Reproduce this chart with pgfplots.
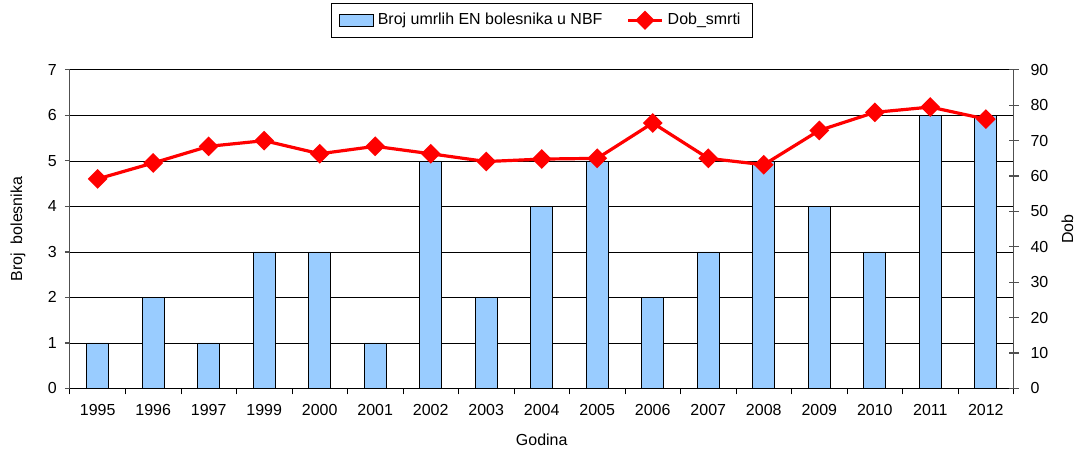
\documentclass[border=0pt]{standalone}
\usepackage{fontspec}
\setmainfont{Liberation Sans}
\usepackage{pgfplots}
\pgfplotsset{compat=1.18}
\definecolor{barblue}{RGB}{153,204,255}
\definecolor{axisgray}{RGB}{80,80,80}

\pgfplotstableread{
x  n  dob
0  1  59.2
1  2  63.7
2  1  68.4
3  3  70.0
4  3  66.3
5  1  68.4
6  5  66.3
7  2  64.1
8  4  64.8
9  5  65.0
10 2  75.0
11 3  65.0
12 5  63.2
13 4  72.9
14 3  78.0
15 6  79.5
16 6  76.1
}\data

\begin{document}
\begin{tikzpicture}[font=\fontsize{8}{9.5}\selectfont]
\pgfplotsset{
  every axis/.append style={
    scale only axis, width=472.5pt, height=159.5pt,
    xmin=-0.5, xmax=16.5,
    /pgf/number format/assume math mode=true,
    tick label style={font=\fontsize{8}{9.5}\selectfont},
    label style={font=\fontsize{8}{9.5}\selectfont},
  }
}
\begin{axis}[
  ymin=0, ymax=7, clip=false,
  axis x line*=bottom, axis y line*=left,
  axis line style={axisgray, line width=0.6pt},
  x axis line style={black},
  ytick={0,...,7},
  xtick={0,...,16},
  xticklabels={1995,1996,1997,1999,2000,2001,2002,2003,2004,2005,2006,2007,2008,2009,2010,2011,2012},
  major x tick style={draw=none},
  minor xtick={-0.5,0.5,...,16.5},
  minor x tick style={black, line width=0.4pt},
  tick align=outside,
  major tick length=2.5pt, minor tick length=3pt,
  ytick style={axisgray, line width=0.6pt},
  ymajorgrids, grid style={black, line width=0.4pt},
  xticklabel style={yshift=-2pt},
  yticklabel style={xshift=-0.5pt},
  xlabel={Godina}, ylabel={Broj\ \ bolesnika},
  xlabel style={at={(axis description cs:0.5,0)}, yshift=-25.5pt, anchor=center},
  ylabel style={at={(axis description cs:0,0.5)}, yshift=26pt, anchor=center},
  legend style={at={(0.5,1)}, anchor=south, yshift=16pt, draw=black, line width=0.4pt,
    legend columns=2, /tikz/every even column/.append style={column sep=10pt},
    font=\fontsize{8}{9.5}\selectfont, inner ysep=3pt, inner xsep=4pt},
  legend cell align=left,
]
\addplot[ybar, bar width=11pt, fill=barblue, draw=black, line width=0.4pt, area legend]
  table[x=x, y=n] {\data};
\addlegendentry{Broj umrlih EN bolesnika u NBF}
\addlegendimage{red, line width=1.6pt, mark=square*, mark size=2.6pt, mark options={rotate=45}}
\addlegendentry{Dob\_smrti}
\path ([xshift=-35pt,yshift=-32.5pt]axis description cs:0,0)
  rectangle ([xshift=32.5pt,yshift=35pt]axis description cs:1,1);
\end{axis}
\begin{axis}[
  ymin=0, ymax=90,
  axis x line=none, axis y line*=right,
  axis line style={axisgray, line width=0.6pt},
  ytick={0,10,...,90},
  tick align=center, major tick length=5pt,
  ytick style={axisgray, line width=0.6pt},
  yticklabel style={xshift=2.5pt},
  ylabel={Dob},
  ylabel style={at={(axis description cs:1,0.5)}, yshift=-27pt, anchor=center},
]
\addplot[red, line width=1.6pt, mark=square*, mark size=2.7pt, mark options={fill=red, rotate=45}]
  table[x=x, y=dob] {\data};
\end{axis}
\end{tikzpicture}
\end{document}
